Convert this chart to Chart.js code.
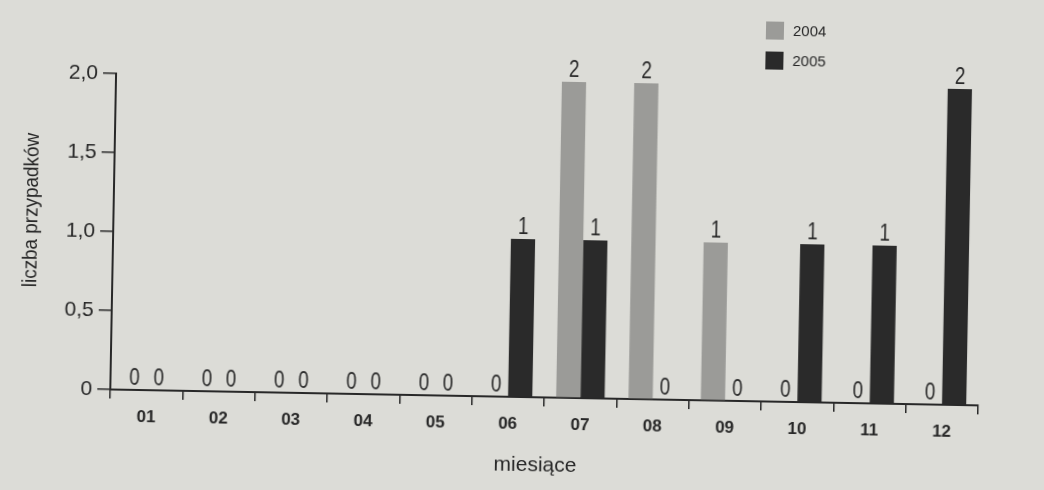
<!DOCTYPE html>
<html>
<head>
<meta charset="utf-8">
<script src="https://cdn.jsdelivr.net/npm/chart.js@4"></script>
<style>
  html, body { margin: 0; padding: 0; background: #dcdcd7; overflow: hidden; }
  #wrap { width: 1044px; height: 490px; }
  /* kartka w skanie jest lekko przekręcona */
  #casesChart { transform: rotate(1.05deg); transform-origin: 522px 245px; }
</style>
</head>
<body>
<div id="wrap"><canvas id="casesChart" width="1044" height="490"></canvas></div>
<script>
const months = ['01', '02', '03', '04', '05', '06', '07', '08', '09', '10', '11', '12'];
const cases2004 = [0, 0, 0, 0, 0, 0, 2, 2, 1, 0, 0, 0];
const cases2005 = [0, 0, 0, 0, 0, 1, 1, 0, 0, 1, 1, 2];
const yearLabels = ['2004', '2005'];
const yTickValues = [0, 0.5, 1, 1.5, 2];

const INK = '#282828';
const FONT = '"Liberation Sans", Arial, sans-serif';

// tekst zwężony w poziomie (krój wąski)
function narrowText(ctx, text, x, y, squeeze) {
    ctx.save();
    ctx.translate(x, y);
    ctx.scale(squeeze, 1);
    ctx.fillText(text, 0, 0);
    ctx.restore();
}

// liczby nad słupkami
const valueLabels = {
    id: 'valueLabels',
    afterDatasetsDraw(chart) {
        const ctx = chart.ctx;
        ctx.save();
        ctx.fillStyle = INK;
        ctx.font = '23px ' + FONT;
        ctx.textAlign = 'center';
        ctx.textBaseline = 'alphabetic';
        chart.data.datasets.forEach((ds, i) => {
            chart.getDatasetMeta(i).data.forEach((bar, j) => {
                narrowText(ctx, String(ds.data[j]), bar.x, bar.y - 5, 0.82);
            });
        });
        ctx.restore();
    }
};

// legenda w prawym górnym rogu + tytuły osi
const extras = {
    id: 'extras',
    afterDraw(chart) {
        const ctx = chart.ctx;
        ctx.save();
        chart.data.datasets.forEach((ds, i) => {
            const y = 26 + i * 30;
            ctx.fillStyle = ds.backgroundColor;
            ctx.fillRect(762, y - 9, 18, 18);
            ctx.fillStyle = INK;
            ctx.font = '15px ' + FONT;
            ctx.textAlign = 'left';
            ctx.textBaseline = 'middle';
            ctx.fillText(ds.label, 789, y + 1);
        });

        ctx.font = '21px ' + FONT;
        ctx.fillStyle = INK;
        ctx.textAlign = 'center';
        ctx.textBaseline = 'middle';
        ctx.fillText('miesiące', 539, 465);

        ctx.translate(31, 219);
        ctx.rotate(-Math.PI / 2);
        narrowText(ctx, 'liczba przypadków', 0, 0, 0.9);
        ctx.restore();
    }
};

new Chart(document.getElementById('casesChart'), {
    type: 'bar',
    data: {
        labels: months,
        datasets: [
            { label: yearLabels[0], data: cases2004, backgroundColor: '#9b9b98' },
            { label: yearLabels[1], data: cases2005, backgroundColor: '#2a2a2a' }
        ]
    },
    options: {
        responsive: false,
        animation: false,
        layout: { padding: { top: 81, right: 63, left: 0, bottom: 0 } },
        datasets: { bar: { barPercentage: 1.0, categoryPercentage: 0.67 } },
        plugins: { legend: { display: false }, tooltip: { enabled: false } },
        scales: {
            x: {
                afterFit: s => { s.height = 93; },
                grid: { drawOnChartArea: false, offset: true, tickLength: 9, color: INK, lineWidth: 1.5 },
                border: { color: INK, width: 2 },
                ticks: { color: INK, padding: 8, font: { family: FONT, size: 17, weight: 'bold' } }
            },
            y: {
                min: 0,
                max: 2,
                afterFit: s => { s.width = 113; },
                afterBuildTicks: s => { s.ticks = yTickValues.map(v => ({ value: v })); },
                grid: { drawOnChartArea: false, tickLength: 13, color: INK, lineWidth: 1.5 },
                border: { color: INK, width: 2 },
                ticks: {
                    color: INK,
                    padding: 5,
                    font: { family: FONT, size: 21 },
                    callback: v => v === 0 ? '0' : v.toFixed(1).replace('.', ',')
                }
            }
        }
    },
    plugins: [valueLabels, extras]
});
</script>
</body>
</html>
